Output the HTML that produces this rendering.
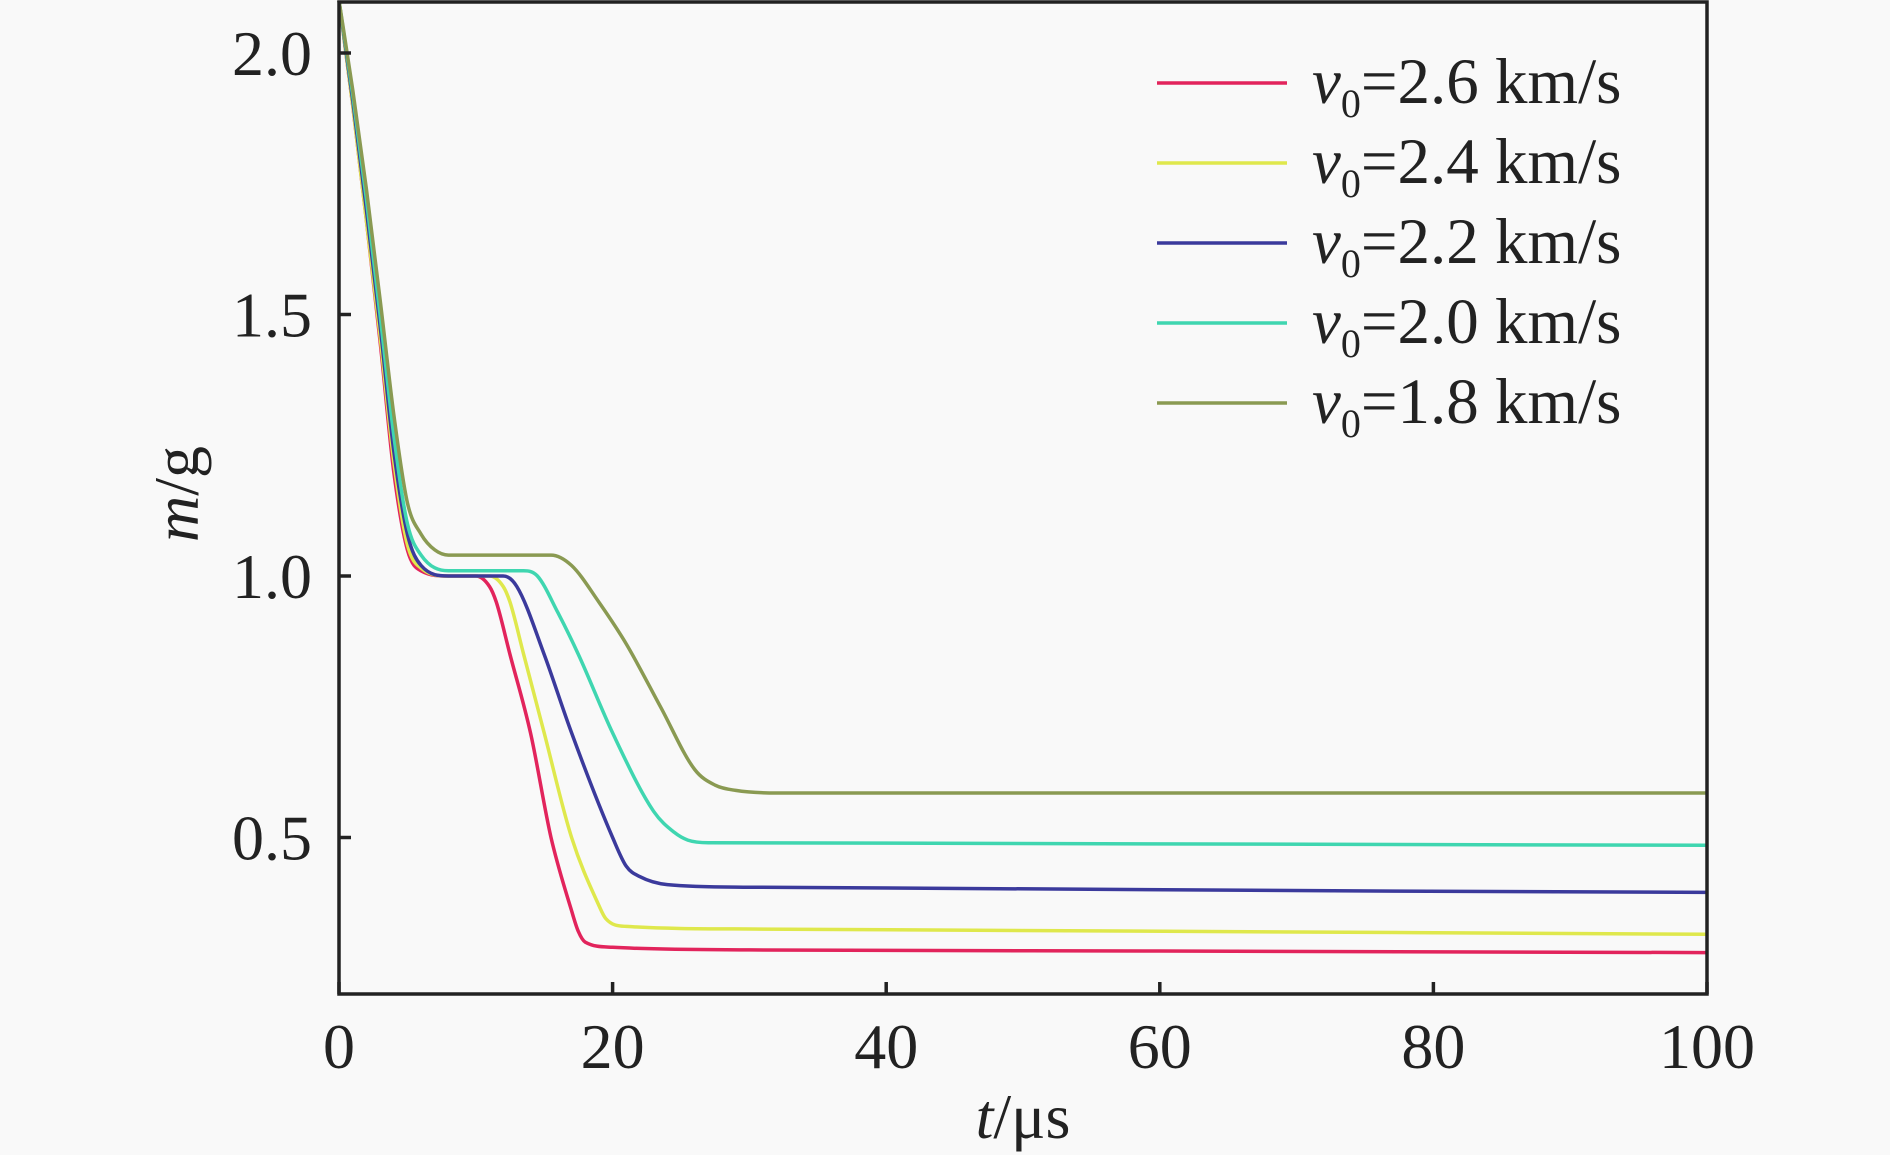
<!DOCTYPE html>
<html><head><meta charset="utf-8"><style>
html,body{margin:0;padding:0;background:#f9f9f9;}
svg{display:block;font-family:"Liberation Serif",serif;}
</style></head><body>
<svg id="chart" width="1890" height="1155" viewBox="0 0 1890 1155"></svg>
<script>
const xTicks=[0,20,40,60,80,100];
const yTicks=[0.5,1.0,1.5,2.0];
const yTickLabels=["0.5","1.0","1.5","2.0"];
const seriesLabels=["2.6","2.4","2.2","2.0","1.8"];
const seriesColors=["#e2245c","#dfe84c","#3b3a9c","#3fd6b0","#8a9a52"];
const t26=[0,1,2,3,4,5,6,8,10,11,11.5,12.5,14,15.5,17,17.5,18,20,30,60,100];
const m26=[2.1,1.9,1.68,1.45,1.2,1.05,1.01,1.0,1.0,0.98,0.95,0.85,0.7,0.5,0.36,0.32,0.3,0.29,0.285,0.283,0.28];
const t24=[0,1,2,3,4,5,6,8,11,12,12.5,13.5,15,17,19,19.5,21,30,100];
const m24=[2.1,1.9,1.68,1.46,1.22,1.06,1.015,1.0,1.0,0.98,0.95,0.85,0.7,0.5,0.37,0.345,0.33,0.325,0.315];
const t22=[0,1,2,3,4,5,6,8,12,13,15,17,20,21,22,24,30,100];
const m22=[2.1,1.91,1.7,1.48,1.24,1.08,1.02,1.0,1.0,0.98,0.85,0.7,0.5,0.445,0.425,0.41,0.405,0.395];
const t20=[0,1,2,3,4,5,6,8,13.5,14.5,16,17.5,20,23,24.5,25.5,27,100];
const m20=[2.1,1.92,1.72,1.5,1.27,1.1,1.04,1.01,1.01,1.0,0.93,0.85,0.7,0.55,0.51,0.495,0.49,0.485];
const t18=[0,1,2,3,4,5,6,7,8,15.5,17,19,21,23.5,26,27.5,29,32,100];
const m18=[2.1,1.93,1.74,1.53,1.31,1.14,1.08,1.05,1.04,1.04,1.02,0.95,0.87,0.75,0.63,0.6,0.59,0.585,0.585];
const tS=[t26,t24,t22,t20,t18], mS=[m26,m24,m22,m20,m18];

const L=339,R=1707,T=2,B=994;
const X=v=>L+(v-0)/100*(R-L);
const Y=v=>576-(v-1)*523;
const svg=document.getElementById('chart');
const NS="http://www.w3.org/2000/svg";
function mk(tag,attrs,parent){const e=document.createElementNS(NS,tag);for(const k in attrs)e.setAttribute(k,attrs[k]);(parent||svg).appendChild(e);return e;}
// monotone cubic (Fritsch-Carlson) path
function monotone(xs,ys){
  const n=xs.length,d=[],m=[];
  for(let i=0;i<n-1;i++)d.push((ys[i+1]-ys[i])/(xs[i+1]-xs[i]));
  m[0]=d[0];m[n-1]=d[n-2];
  for(let i=1;i<n-1;i++){m[i]=(d[i-1]*d[i]<=0)?0:(d[i-1]+d[i])/2;}
  for(let i=0;i<n-1;i++){
    if(d[i]===0){m[i]=0;m[i+1]=0;continue;}
    const a=m[i]/d[i],b=m[i+1]/d[i],s=a*a+b*b;
    if(s>9){const t=3/Math.sqrt(s);m[i]=t*a*d[i];m[i+1]=t*b*d[i];}
  }
  let p='M'+X(xs[0]).toFixed(1)+','+Y(ys[0]).toFixed(1);
  for(let i=0;i<n-1;i++){
    const h=xs[i+1]-xs[i];
    const c1x=xs[i]+h/3,c1y=ys[i]+m[i]*h/3;
    const c2x=xs[i+1]-h/3,c2y=ys[i+1]-m[i+1]*h/3;
    p+=' C'+X(c1x).toFixed(1)+','+Y(c1y).toFixed(1)+' '+X(c2x).toFixed(1)+','+Y(c2y).toFixed(1)+' '+X(xs[i+1]).toFixed(1)+','+Y(ys[i+1]).toFixed(1);
  }
  return p;
}
for(let s=0;s<5;s++){
  const p=mk('path',{d:monotone(tS[s],mS[s]),fill:'none',stroke:seriesColors[s],'stroke-width':3.5,'stroke-linejoin':'round'});
  
  
}
const fr=mk('rect',{x:L,y:T,width:R-L,height:B-T,fill:'none',stroke:'#222','stroke-width':3.5});


xTicks.forEach(v=>{
  const tk=mk('line',{x1:X(v),x2:X(v),y1:B,y2:B-12,stroke:'#222','stroke-width':3.5});
  
  
  const tx=mk('text',{x:X(v),y:1068,'text-anchor':'middle','font-size':64,fill:'#222'});
  tx.textContent=v;
  
  
});
yTicks.forEach((v,i)=>{
  const tk=mk('line',{x1:L,x2:L+12,y1:Y(v),y2:Y(v),stroke:'#222','stroke-width':3.5});
  
  
  const tx=mk('text',{x:312,y:Y(v)+22,'text-anchor':'end','font-size':64,fill:'#222'});
  tx.textContent=yTickLabels[i];
  
  
});
const xt=mk('text',{x:1023,y:1138,'text-anchor':'middle','font-size':64,fill:'#222'});
xt.innerHTML='<tspan font-style="italic">t</tspan>/μs';


const yt=mk('text',{x:0,y:0,'text-anchor':'middle','font-size':64,fill:'#222',transform:'translate(198,494) rotate(-90)'});
yt.innerHTML='<tspan font-style="italic">m</tspan>/g';


for(let s=0;s<5;s++){
  const y=83+s*80;
  const g=mk('g',{});
  
  
  mk('line',{x1:1157,x2:1287,y1:y,y2:y,stroke:seriesColors[s],'stroke-width':3.5},g);
  const tx=mk('text',{x:1312,y:y+20,'font-size':65,fill:'#222'},g);
  tx.innerHTML='<tspan font-style="italic">v</tspan><tspan font-size="40" dy="14">0</tspan><tspan dy="-14">='+seriesLabels[s]+' km/s</tspan>';
}
</script>
</body></html>
